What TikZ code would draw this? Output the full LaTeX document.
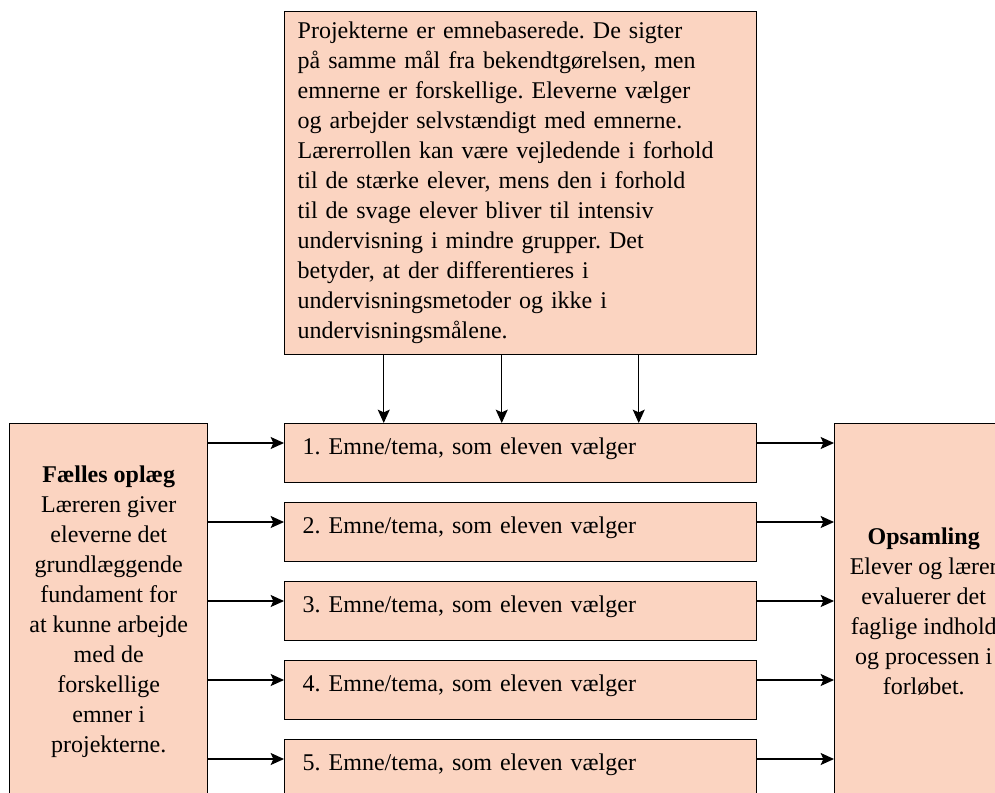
\documentclass[tikz,border=0pt]{standalone}
\usepackage{fontspec}
\setmainfont{Liberation Serif}
\usetikzlibrary{arrows.meta,calc}
\definecolor{boksfarve}{RGB}{251,212,193}
\frenchspacing
\tikzset{
	boks/.style={draw,line width=1.1pt,fill=boksfarve,anchor=north west,inner sep=0pt,
		font=\fontsize{18}{22.5}\selectfont},
	pil/.style={-{Stealth[length=10pt,width=9pt,inset=2pt]},line width=0.9pt}
}
\begin{document}
\begin{tikzpicture}[x=0.75pt,y=-0.75pt]
		\useasboundingbox (0,0) rectangle (995,792);
		\clip (0,0) rectangle (995,792);
		% projekterne
		\node[boks,minimum width=354pt,minimum height=257.25pt,text width=334.5pt,align=left] (proj) at (284,11)
		{Projekterne er emnebaserede. De sigter\\
		på samme mål fra bekendtgørelsen, men\\
		emnerne er forskellige. Eleverne vælger\\
		og arbejder selvstændigt med emnerne.\\
		Lærerrollen kan være vejledende i forhold\\
		til de stærke elever, mens den i forhold\\
		til de svage elever bliver til intensiv\\
		undervisning i mindre grupper. Det\\
		betyder, at der differentieres i\\
		undervisningsmetoder og ikke i\\
		undervisningsmålene.};
		% faelles oplaeg og opsamling
		\node[boks,minimum width=148.5pt,minimum height=281.25pt,align=center] (faelles) at (9,423)
		{\textbf{Fælles oplæg}\\Læreren giver\\eleverne det\\grundlæggende\\fundament for\\at kunne arbejde\\med de\\forskellige\\emner i\\projekterne.};
		\node[boks,minimum width=133.5pt,minimum height=281.25pt,align=center] (opsamling) at (834,423)
		{\textbf{Opsamling}\\Elever og lærer\\evaluerer det\\faglige indhold\\og processen i\\forløbet.};
		% emner
		\foreach \i in {1,...,5}
			\node[boks,minimum width=354pt,minimum height=44.25pt,text width=327pt,align=left,text height=13pt,text depth=11pt] (emne\i) at (284,{423+79*(\i-1)}) {\i. Emne/tema, som eleven vælger};
		\foreach \dx in {-137,-19,118}
			\draw[pil] ($(proj.south)+(\dx,0)$) -- ($(emne1.north)+(\dx,0)$);
		\foreach \i in {1,...,5}{
			\draw[pil] (faelles.east |- {$(emne\i.north west)+(0,20)$}) -- ($(emne\i.north west)+(0,20)$);
			\draw[pil] ($(emne\i.north east)+(0,20)$) -- (opsamling.west |- {$(emne\i.north east)+(0,20)$});
		}
\end{tikzpicture}
\end{document}
